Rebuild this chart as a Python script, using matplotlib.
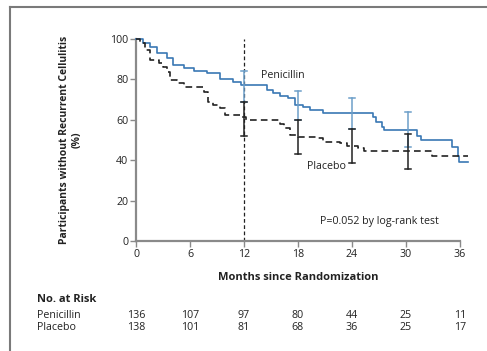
import matplotlib
matplotlib.use("Agg")
import matplotlib.pyplot as plt
from matplotlib.lines import Line2D

plt.rcParams['font.family'] = ['Open Sans', 'DejaVu Sans']

# ---- data ----
pen_t = [0, 0.8, 1.6, 2.3, 3.4, 4.1, 5.3, 6.4, 7.9, 9.3, 10.8, 11.7, 14.5, 15.2, 16.0, 16.9,
         17.7, 18.6, 19.3, 20.8, 26.3, 26.7, 27.3, 27.5, 31.2, 31.7, 35.1, 35.8, 35.9, 36.9]
pen_s = [100, 97.9, 95.9, 92.9, 90.4, 87.0, 85.5, 84.3, 83.0, 80.0, 78.9, 77.0, 74.8, 73.1, 71.9, 70.6,
         67.3, 66.2, 64.9, 63.5, 61.5, 59.0, 56.6, 55.0, 52.0, 50.0, 46.4, 42.0, 39.3, 39.3]

pla_t = [0, 0.45, 1.0, 1.6, 2.5, 3.0, 3.4, 3.8, 4.5, 5.3, 7.5, 8.0, 8.6, 9.3, 9.9, 11.6, 12.2,
         16.0, 16.4, 17.1, 18.0, 20.1, 20.8, 22.7, 23.4, 24.7, 25.3, 32.9, 36.9]
pla_s = [100, 97.9, 94.5, 89.6, 88.0, 86.3, 83.8, 79.7, 78.0, 76.4, 73.9, 69.0, 67.3, 65.7, 62.4, 61.5, 60.1,
         57.9, 55.8, 52.5, 51.6, 50.8, 49.2, 48.4, 47.0, 45.9, 44.6, 42.2, 42.2]

ci_t = [12, 18, 24, 30.2]
pen_lo = [69.0, 59.9, 55.4, 46.5]
pen_hi = [84.0, 74.3, 71.0, 64.0]
pla_lo = [52.0, 43.0, 38.5, 35.5]
pla_hi = [69.0, 60.0, 55.4, 53.0]

xticks = [0, 6, 12, 18, 24, 30, 36]
yticks = [0, 20, 40, 60, 80, 100]
risk_pen = [136, 107, 97, 80, 44, 25, 11]
risk_pla = [138, 101, 81, 68, 36, 25, 17]

blue = '#3a78b4'
blue_ci = '#6d9fc9'
dark = '#222222'
gray = '#8a8a8a'

W, H = 487, 351
fig = plt.figure(figsize=(W / 100, H / 100), dpi=100)
fig.patch.set_facecolor('white')

ax = fig.add_axes([136 / W, 1 - 241 / H, 324 / W, 202 / H])
ax.set_xlim(0, 36)
ax.set_ylim(0, 100)

# dashed reference line at 12 months
ax.axvline(12, color=dark, lw=0.9, ls=(0, (3, 2)), zorder=1)

ax.step(pen_t, pen_s, where='post', color=blue, lw=1.2, clip_on=False, zorder=3)
ax.step(pla_t, pla_s, where='post', color=dark, lw=1.2, ls=(0, (4, 2.5)), clip_on=False, zorder=3)

for t, lo, hi in zip(ci_t, pen_lo, pen_hi):
    ax.plot([t, t], [lo, hi], color=blue_ci, lw=1.1, zorder=4)
    ax.plot([t - 0.33, t + 0.33], [hi, hi], color=blue_ci, lw=1.1, zorder=4)
    ax.plot([t - 0.33, t + 0.33], [lo, lo], color=blue_ci, lw=1.1, zorder=4)
for t, lo, hi in zip(ci_t, pla_lo, pla_hi):
    ax.plot([t, t], [lo, hi], color=dark, lw=1.1, zorder=5)
    ax.plot([t - 0.33, t + 0.33], [hi, hi], color=dark, lw=1.1, zorder=5)
    ax.plot([t - 0.33, t + 0.33], [lo, lo], color=dark, lw=1.1, zorder=5)

ax.text(16.3, 81.8, 'Penicillin', fontsize=7.7, color=dark, ha='center', va='center')
ax.text(21.2, 36.8, 'Placebo', fontsize=7.7, color=dark, ha='center', va='center')
ax.text(27.0, 9.9, 'P=0.052 by log-rank test', fontsize=7.7, color=dark, ha='center', va='center')

for s in ['top', 'right']:
    ax.spines[s].set_visible(False)
for s in ['left', 'bottom']:
    ax.spines[s].set_color(gray)
    ax.spines[s].set_linewidth(1.6)

ax.set_xticks(xticks)
ax.set_yticks(yticks)
ax.tick_params(axis='both', direction='out', length=4, width=1.0, color=gray,
               labelsize=7.7, labelcolor=dark, pad=1.5)

ax.set_xlabel('Months since Randomization', fontsize=8, fontweight='bold', color=dark, labelpad=9)
ax.set_ylabel('Participants without Recurrent Cellulitis\n(%)', fontsize=7.5, fontweight='bold',
              color=dark, labelpad=20, linespacing=1.15)

# number at risk table
fig.text(37 / W, 1 - 300 / H, 'No. at Risk', fontsize=8, fontweight='bold', color=dark,
         ha='left', va='center')
fig.text(37 / W, 1 - 315 / H, 'Penicillin', fontsize=7.7, color=dark, ha='left', va='center')
fig.text(37 / W, 1 - 328 / H, 'Placebo', fontsize=7.7, color=dark, ha='left', va='center')
for t, a, b in zip(xticks, risk_pen, risk_pla):
    xf = ax.transData.transform((t, 0))[0] / W
    fig.text(xf, 1 - 315 / H, str(a), fontsize=7.7, color=dark, ha='center', va='center')
    fig.text(xf, 1 - 328 / H, str(b), fontsize=7.7, color=dark, ha='center', va='center')

# outer frame
fig.add_artist(Line2D([9.5 / W, 9.5 / W], [0, 1 - 6.5 / H], transform=fig.transFigure,
                      color='#7a7a7a', lw=1.5))
fig.add_artist(Line2D([9.5 / W, 1], [1 - 6.5 / H, 1 - 6.5 / H], transform=fig.transFigure,
                      color='#7a7a7a', lw=1.5))

fig.savefig('out.png', dpi=100, facecolor='white')
